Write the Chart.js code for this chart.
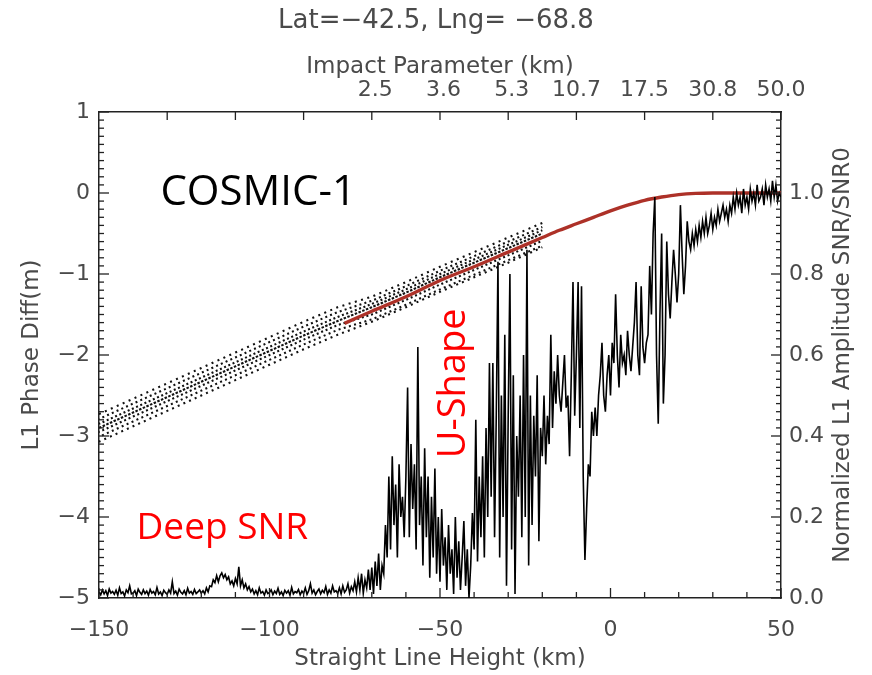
<!DOCTYPE html>
<html>
<head>
<meta charset="utf-8">
<script src="https://cdn.jsdelivr.net/npm/chart.js@4.4.1/dist/chart.umd.min.js"></script>
<style>
  html, body { margin: 0; padding: 0; background: #fff; }
  #wrap { width: 872px; height: 675px; }
</style>
</head>
<body>
<div id="wrap"><canvas id="snrChart" width="872" height="675"></canvas></div>
<script>
// Normalized L1 SNR, sampled every 0.5 km from -150 km (right axis)
const snrStart = -150;
const snrStep = 0.5;
const snrValues = [
  0.015,0.008,0.02,0.01,0.018,0.006,0.022,0.012,0.016,0.009,
  0.019,0.007,0.025,0.011,0.015,0.005,0.02,0.013,0.03,0.01,
  0.012,0.018,0.006,0.022,0.014,0.009,0.02,0.011,0.017,0.007,
  0.021,0.012,0.016,0.008,0.026,0.01,0.015,0.006,0.019,0.013,
  0.009,0.02,0.012,0.04,0.011,0.017,0.007,0.022,0.014,0.01,
  0.018,0.008,0.024,0.012,0.016,0.009,0.021,0.011,0.015,0.02,
  0.012,0.018,0.01,0.025,0.015,0.03,0.028,0.045,0.038,0.055,
  0.04,0.055,0.062,0.05,0.058,0.045,0.052,0.035,0.042,0.03,
  0.048,0.035,0.077,0.03,0.045,0.025,0.035,0.02,0.028,0.015,
  0.022,0.01,0.018,0.008,0.025,0.012,0.016,0.007,0.02,0.011,
  0.014,0.02,0.008,0.017,0.011,0.024,0.009,0.015,0.006,0.019,
  0.012,0.018,0.007,0.026,0.01,0.016,0.013,0.021,0.008,0.017,
  0.011,0.025,0.009,0.018,0.035,0.012,0.02,0.008,0.016,0.022,
  0.01,0.019,0.013,0.028,0.009,0.02,0.012,0.03,0.015,0.018,
  0.011,0.025,0.01,0.03,0.014,0.02,0.035,0.012,0.028,0.018,
  0.04,0.015,0.05,0.02,0.06,0.012,0.045,0.025,0.07,0.02,
  0.075,0.01,0.09,0.03,0.11,0.02,0.08,0.06,0.18,0.1,
  0.3,0.12,0.35,0.18,0.28,0.1,0.33,0.2,0.25,0.15,
  0.3,0.52,0.15,0.38,0.22,0.33,0.12,0.62,0.18,0.3,
  0.08,0.37,0.15,0.3,0.05,0.25,0.1,0.32,0.06,0.2,
  0.04,0.22,0.08,0.15,0.02,0.18,0.06,0.12,0.01,0.2,
  0.05,0.14,0.02,0.1,0.19,0.03,0.12,0.0,0.08,0.21,
  0.12,0.44,0.09,0.3,0.15,0.35,0.1,0.42,0.2,0.58,
  0.25,0.58,0.15,0.45,0.83,0.1,0.5,0.2,0.65,0.03,
  0.45,0.8,0.12,0.55,0.01,0.4,0.25,0.5,0.15,0.6,
  0.2,0.86,0.08,0.5,0.18,0.45,0.3,0.55,0.14,0.42,
  0.35,0.5,0.33,0.45,0.38,0.65,0.42,0.56,0.48,0.6,
  0.5,0.46,0.53,0.6,0.47,0.5,0.35,0.55,0.78,0.45,
  0.6,0.78,0.42,0.77,0.3,0.094,0.22,0.33,0.3,0.46,
  0.4,0.47,0.4,0.5,0.55,0.63,0.5,0.46,0.55,0.6,
  0.5,0.63,0.58,0.75,0.6,0.52,0.65,0.58,0.6,0.55,
  0.66,0.6,0.56,0.62,0.68,0.78,0.6,0.55,0.77,0.62,
  0.58,0.63,0.65,0.82,0.7,0.9,0.99,0.6,0.43,0.7,
  0.9,0.48,0.6,0.88,0.75,0.69,0.78,0.86,0.8,0.73,
  0.8,0.97,0.85,0.75,0.82,0.93,0.88,0.86,0.9,0.87,
  0.91,0.88,0.92,0.89,0.93,0.9,0.94,0.9,0.92,0.95,
  0.91,0.94,0.92,0.96,0.93,0.95,0.97,0.94,0.96,0.93,
  0.97,0.95,0.99,0.96,1.0,0.97,0.99,0.95,1.01,0.97,
  0.99,0.96,1.01,0.98,1.0,0.97,1.02,0.98,0.99,1.01,
  0.97,1.02,0.99,1.01,0.98,1.03,0.99,1.02,0.98,1.0,
  0.99
];

// observed L1 phase scatter (left axis), rows of dots across the band
const phaseX   = [-150, -140, -130, -120, -110, -100, -90, -80, -70, -60, -50, -40, -30, -20];
const phaseRow1 = [-2.73,-2.54,-2.35,-2.16,-1.97,-1.78,-1.59,-1.41,-1.28,-1.10,-0.91,-0.73,-0.55,-0.37];
const phaseRow2 = [-2.79,-2.60,-2.41,-2.22,-2.03,-1.84,-1.65,-1.47,-1.33,-1.15,-0.96,-0.78,-0.60,-0.42];
const phaseRow3 = [-2.85,-2.66,-2.47,-2.28,-2.09,-1.90,-1.71,-1.53,-1.37,-1.19,-1.00,-0.82,-0.64,-0.46];
const phaseRow4 = [-2.90,-2.71,-2.52,-2.33,-2.14,-1.95,-1.76,-1.58,-1.41,-1.23,-1.04,-0.86,-0.68,-0.50];
const phaseRow5 = [-2.95,-2.76,-2.57,-2.38,-2.19,-2.00,-1.81,-1.63,-1.50,-1.32,-1.13,-0.95,-0.77,-0.59];
const phaseRow6 = [-3.01,-2.82,-2.63,-2.44,-2.25,-2.06,-1.87,-1.69,-1.56,-1.38,-1.19,-1.01,-0.83,-0.65];
const phaseRow7 = [-3.07,-2.88,-2.69,-2.50,-2.31,-2.12,-1.93,-1.75,-1.59,-1.41,-1.22,-1.04,-0.86,-0.67];

// model phase (red)
const fitX      = [-78, -70, -60, -50, -40, -30, -20, -15, -10, -5, 0, 5, 10, 15, 20, 25, 30, 40, 50];
const fitValues = [-1.61,-1.46,-1.28,-1.08,-0.91,-0.73,-0.55,-0.46,-0.38,-0.30,-0.22,-0.15,-0.09,-0.05,-0.02,-0.005,0,0,0];

// top axis: impact parameter labels at straight line heights
const topTickHeights = [-70, -50, -30, -10, 10, 30, 50];
const topTickLabels  = [' 2.5', ' 3.6', ' 5.3', '10.7', '17.5', '30.8', '50.0'];

const minus = v => (v < 0 ? '\u2212' : '') + Math.abs(v);
const labelFont = { family: '"DejaVu Sans", sans-serif', size: 22 };
const titleFont = { family: '"DejaVu Sans", sans-serif', size: 23 };
const grey = '#4a4a4a';

const pairs = (xs, ys) => xs.map((x, i) => ({ x: x, y: ys[i] }));
const snrData = snrValues.map((v, i) => ({ x: snrStart + i * snrStep, y: v }));

const dotRow = (ys, dash, off) => ({
  data: pairs(phaseX, ys),
  yAxisID: 'y',
  borderColor: '#111',
  borderWidth: 2.1,
  borderDash: dash,
  borderDashOffset: off,
  pointRadius: 0,
  tension: 0
});

const insideTicks = {
  id: 'insideTicks',
  afterDatasetsDraw(chart) {
    const { ctx, chartArea: a, scales } = chart;
    ctx.save();
    ctx.strokeStyle = '#222';
    ctx.lineWidth = 1.3;
    const seg = (x1, y1, x2, y2) => { ctx.beginPath(); ctx.moveTo(x1, y1); ctx.lineTo(x2, y2); ctx.stroke(); };
    for (let v = -150; v <= 50; v += 10) {
      const px = scales.x.getPixelForValue(v);
      seg(px, a.bottom, px, a.bottom - (v % 50 === 0 ? 10 : 6));
    }
    for (let v = -130; v <= 50; v += 20) {
      const px = scales.xTop.getPixelForValue(v);
      seg(px, a.top, px, a.top + 8);
    }
    for (let i = 0; i <= 60; i++) {
      const py = scales.y.getPixelForValue(-5 + i / 10);
      seg(a.left, py, a.left + (i % 10 === 0 ? 10 : 5), py);
    }
    for (let i = 0; i <= 60; i++) {
      const py = scales.y2.getPixelForValue(i / 50);
      seg(a.right, py, a.right - (i % 10 === 0 ? 10 : 5), py);
    }
    ctx.restore();
  },
  afterDraw(chart) {
    const { ctx, chartArea: a, scales } = chart;
    ctx.save();
    // right axis title reads bottom to top
    ctx.translate(a.right + 62, (a.top + a.bottom) / 2);
    ctx.rotate(-Math.PI / 2);
    ctx.font = '23px "DejaVu Sans", sans-serif';
    ctx.fillStyle = grey;
    ctx.textAlign = 'center';
    ctx.textBaseline = 'middle';
    ctx.fillText('Normalized L1 Amplitude SNR/SNR0', 0, 0);
    ctx.restore();

    ctx.save();
    ctx.textBaseline = 'middle';
    ctx.font = '42px "Open Sans", sans-serif';
    ctx.fillStyle = '#000';
    ctx.fillText('COSMIC-1', scales.x.getPixelForValue(-132), scales.y.getPixelForValue(0));
    ctx.font = '37px "Open Sans", sans-serif';
    ctx.fillStyle = '#ff0000';
    ctx.fillText('Deep SNR', scales.x.getPixelForValue(-139), scales.y.getPixelForValue(-4.14));
    ctx.translate(scales.x.getPixelForValue(-45.7), scales.y.getPixelForValue(-2.35));
    ctx.rotate(-Math.PI / 2);
    ctx.textAlign = 'center';
    ctx.font = '38px "Open Sans", sans-serif';
    ctx.fillText('U-Shape', 0, 0);
    ctx.restore();
  }
};

new Chart(document.getElementById('snrChart'), {
  type: 'line',
  data: {
    datasets: [
      { data: snrData, yAxisID: 'y2', borderColor: '#000', borderWidth: 1.6, pointRadius: 0, tension: 0 },
      { data: pairs(fitX, fitValues), yAxisID: 'y', borderColor: '#ad3128', borderWidth: 3.4, pointRadius: 0, tension: 0.3 },
      dotRow(phaseRow1, [2, 4.5], 0),
      dotRow(phaseRow2, [2, 3.2], 1.5),
      dotRow(phaseRow3, [2, 2.6], 0.7),
      dotRow(phaseRow4, [2.5, 1.5], 0),
      dotRow(phaseRow5, [2, 2.8], 1.2),
      dotRow(phaseRow6, [2, 3.4], 2.1),
      dotRow(phaseRow7, [2, 4.2], 0.4)
    ]
  },
  options: {
    responsive: false,
    animation: false,
    layout: { padding: 0 },
    plugins: {
      legend: { display: false },
      tooltip: { enabled: false },
      title: {
        display: true,
        text: 'Lat=\u221242.5, Lng= \u221268.8',
        color: grey,
        font: { family: '"DejaVu Sans", sans-serif', size: 26, weight: 'normal' },
        padding: { top: 6, bottom: 0 }
      }
    },
    scales: {
      x: {
        type: 'linear', position: 'bottom', min: -150, max: 50,
        grid: { display: false, drawTicks: false, tickLength: 0 },
        border: { display: true, color: '#222', width: 1.5 },
        ticks: { stepSize: 50, color: grey, font: labelFont, padding: 19, maxRotation: 0, callback: v => minus(v) },
        title: { display: true, text: 'Straight Line Height (km)', color: grey, font: titleFont, padding: { top: 0, bottom: 2 } },
        afterFit: s => { s.height = 77; }
      },
      xTop: {
        type: 'linear', position: 'top', min: -150, max: 50,
        grid: { display: false, drawTicks: false, tickLength: 0 },
        border: { display: true, color: '#222', width: 1.5 },
        afterBuildTicks: s => { s.ticks = topTickHeights.map(v => ({ value: v })); },
        ticks: { color: grey, font: labelFont, padding: 9, autoSkip: false, maxRotation: 0,
          callback: v => topTickLabels[topTickHeights.indexOf(v)] },
        title: { display: true, text: 'Impact Parameter (km)', color: grey, font: titleFont, padding: { top: 16, bottom: 0 } },
        afterFit: s => { s.height = 74.8; }
      },
      y: {
        type: 'linear', position: 'left', min: -5, max: 1,
        grid: { display: false, drawTicks: false, tickLength: 0 },
        border: { display: true, color: '#222', width: 1.5 },
        ticks: { stepSize: 1, color: grey, font: labelFont, padding: 9, callback: v => minus(v) },
        title: { display: true, text: 'L1 Phase Diff(m)', color: grey, font: titleFont, padding: { top: 18, bottom: 0 } },
        afterFit: s => { s.width = 99; }
      },
      y2: {
        type: 'linear', position: 'right', min: 0, max: 1.2,
        grid: { display: false, drawTicks: false, tickLength: 0 },
        border: { display: true, color: '#222', width: 1.5 },
        ticks: { stepSize: 0.2, color: grey, font: labelFont, padding: 8, callback: v => (v > 1.1 ? '' : v.toFixed(1)) },
        afterFit: s => { s.width = 91; }
      }
    }
  },
  plugins: [insideTicks]
});
</script>
</body>
</html>
